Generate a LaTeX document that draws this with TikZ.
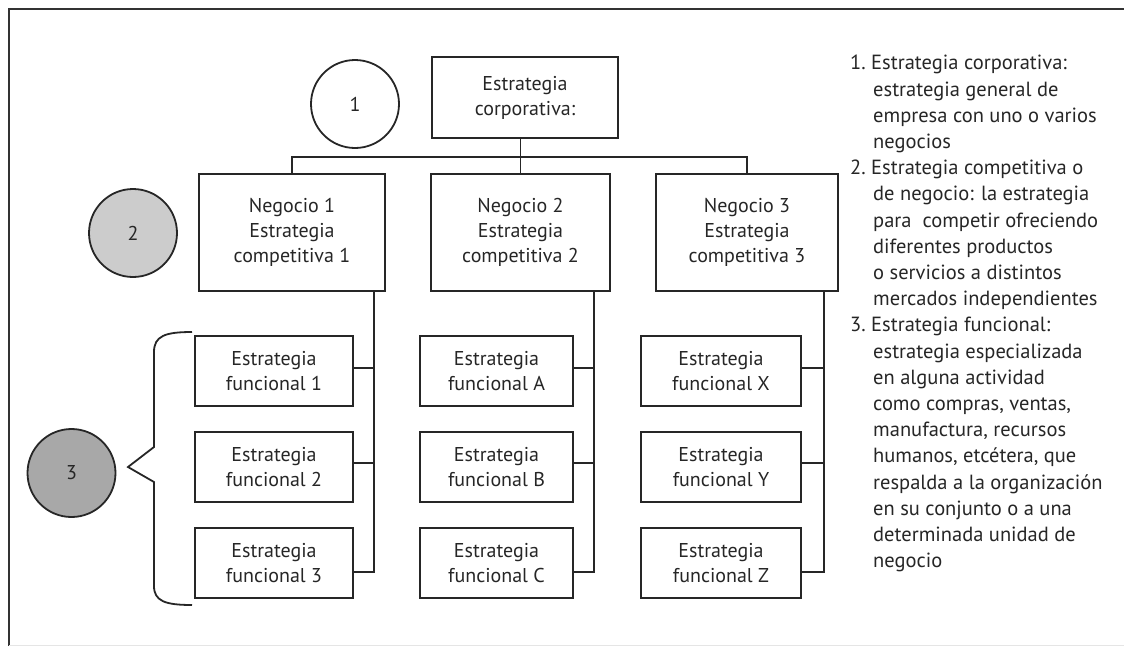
\documentclass[tikz,border=0pt]{standalone}
\usepackage{fontspec}
\setmainfont{PT Sans}
\begin{document}
\begin{tikzpicture}[x=1pt,y=-1pt,
  line/.style={draw=black!85,line width=1.8pt},
  box/.style={draw=black!85,line width=1.8pt,rectangle,align=center,inner sep=0pt,
    text=black!85,font=\fontsize{20}{25}\selectfont},
  nbox/.style={box,minimum height=117pt},
  fbox/.style={box,minimum height=70pt},
  tag/.style={draw=black!85,line width=1.8pt,circle,minimum size=88pt,inner sep=0pt,
    text=black!85,font=\fontsize{20}{23}\selectfont}]
\useasboundingbox (0,0) rectangle (1124,646);
% frame
\draw[black!80,line width=2.4pt] (9,646) -- (9,9) -- (1124,9);
\draw[black!10,line width=0.8pt] (9,645) -- (1124,645);

% level tags
\node[tag] (c1) at (355,104) {1};
\node[tag,fill=black!20] (c2) at (133,233) {2};
\node[tag,fill=black!34] (c3) at (71.5,473) {3};

% corporate level
\node[box,minimum width=186pt,minimum height=81pt] (corp) at (525,97.5)
  {Estrategia\\corporativa:};

% business level
\node[nbox,minimum width=186pt] (n1) at (292,232.5) {Negocio 1\\Estrategia\\competitiva 1};
\node[nbox,minimum width=179pt] (n2) at (520.5,232.5) {Negocio 2\\Estrategia\\competitiva 2};
\node[nbox,minimum width=182pt] (n3) at (747,232.5) {Negocio 3\\Estrategia\\competitiva 3};

% functional level
\node[fbox,minimum width=158pt] (f11) at (274,371) {Estrategia\\funcional 1};
\node[fbox,minimum width=158pt] (f12) at (274,467) {Estrategia\\funcional 2};
\node[fbox,minimum width=158pt] (f13) at (274,563) {Estrategia\\funcional 3};
\node[fbox,minimum width=153pt] (f21) at (496.5,371) {Estrategia\\funcional A};
\node[fbox,minimum width=153pt] (f22) at (496.5,467) {Estrategia\\funcional B};
\node[fbox,minimum width=153pt] (f23) at (496.5,563) {Estrategia\\funcional C};
\node[fbox,minimum width=160pt] (f31) at (721,371) {Estrategia\\funcional X};
\node[fbox,minimum width=160pt] (f32) at (721,467) {Estrategia\\funcional Y};
\node[fbox,minimum width=160pt] (f33) at (721,563) {Estrategia\\funcional Z};

% corporate to business tree
\coordinate (bus) at (0,157);
\draw[line] (corp.south -| n2.north) -- (n2.north);
\draw[line] (n1.north) -- (n1.north |- bus) -- (n3.north |- bus) -- (n3.north);

% business to functional spines
\foreach \n/\a/\b/\c/\dx in {n1/f11/f12/f13/12, n2/f21/f22/f23/17, n3/f31/f32/f33/15}{
  \coordinate (sp) at ([xshift=-\dx pt]\n.south east);
  \draw[line] (sp) |- ([yshift=-9pt]\c.east);
  \draw[line] ([yshift=3pt]\a.east) -- ([yshift=3pt]\a.east -| sp);
  \draw[line] ([yshift=4pt]\b.east) -- ([yshift=4pt]\b.east -| sp);
}

% brace grouping the functional level
\draw[line] (192,332) .. controls (165,332) and (154,336) .. (154,352)
  -- (154,447) -- (128,467) -- (154,482) -- (154,586)
  .. controls (154,601) and (165,605) .. (192,605);

% legend
\node[anchor=north west,align=left,inner sep=0pt,text=black!85,
  font=\fontsize{20.5}{26.2}\selectfont] (legend) at (850,55) {%
  1.\ Estrategia corporativa:\\
  \hspace*{23pt}estrategia general de\\
  \hspace*{23pt}empresa con uno o varios\\
  \hspace*{23pt}negocios\\
  2.\ Estrategia competitiva o\\
  \hspace*{23pt}de negocio: la estrategia\\
  \hspace*{23pt}para\ \ competir ofreciendo\\
  \hspace*{23pt}diferentes productos\\
  \hspace*{23pt}o servicios a distintos\\
  \hspace*{23pt}mercados independientes\\
  3.\ Estrategia funcional:\\
  \hspace*{23pt}estrategia especializada\\
  \hspace*{23pt}en alguna actividad\\
  \hspace*{23pt}como compras, ventas,\\
  \hspace*{23pt}manufactura, recursos\\
  \hspace*{23pt}humanos, etcétera, que\\
  \hspace*{23pt}respalda a la organización\\
  \hspace*{23pt}en su conjunto o a una\\
  \hspace*{23pt}determinada unidad de\\
  \hspace*{23pt}negocio};
\end{tikzpicture}
\end{document}
